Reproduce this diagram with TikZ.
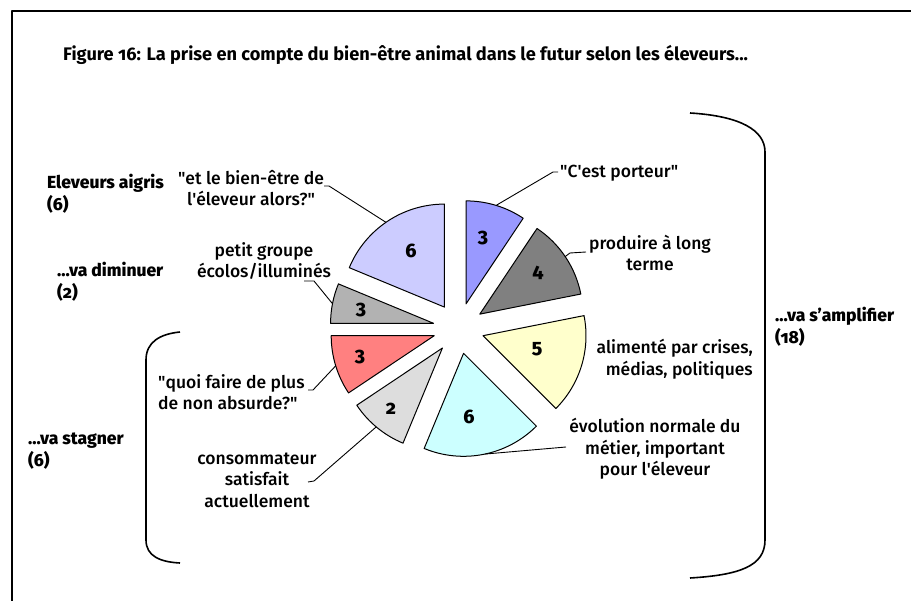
\documentclass[tikz,border=0pt]{standalone}
\usepackage{fontspec}
\setmainfont{Fira Sans}[Numbers=OldStyle]
\newfontfamily\medfont{Fira Sans Medium}[Numbers=OldStyle]
\newfontfamily\heavyfont{Fira Sans ExtraBold}[Numbers=OldStyle]
\newcommand\sq{\textquotesingle}
\newcommand\dq{\textquotedbl}
\definecolor{cblue}{HTML}{9999FF}
\definecolor{cdgray}{HTML}{808080}
\definecolor{cyellow}{HTML}{FFFFCC}
\definecolor{ccyan}{HTML}{CCFFFF}
\definecolor{clgray}{HTML}{DDDDDD}
\definecolor{cred}{HTML}{FF8080}
\definecolor{cgray}{HTML}{B2B2B2}
\definecolor{clav}{HTML}{CCCCFF}
\newcommand\drawslice[4]{%
  \path (C) ++ ({-(#1+#2)/2}:\D) coordinate (#4);
  \filldraw[slicestyle, fill=#3] (#4) -- ++({-(#1)}:\R)
    arc[start angle={-(#1)}, end angle={-(#2)}, radius=\R] -- cycle;
}
\begin{document}
\begin{tikzpicture}[x=1pt,y=-1pt,line join=round]
\useasboundingbox (0,0) rectangle (911,601);
\tikzset{
  slicestyle/.style={draw=black, line width=1pt},
  lead/.style={draw=black, line width=0.9pt},
  lbl/.style={font=\medfont\fontsize{17.5}{21.5}\selectfont, align=center, inner sep=0pt},
  grp/.style={font=\heavyfont\fontsize{17.5}{21.5}\selectfont, align=left, inner sep=0pt, anchor=west},
  num/.style={font=\heavyfont\fontsize{19.5}{20}\selectfont, inner sep=0pt},
  bracestyle/.style={draw=black, line width=1.6pt},
}
% frame
\draw[line width=1.6pt] (12,601) -- (12,11) -- (911,11);
% title
\node[anchor=base west, inner sep=0pt, font=\bfseries\fontsize{18.2}{20}\selectfont] (title) at (63,61)
  {Figure 16: La prise en compte du bien-être animal dans le futur selon les éleveurs...};
% pie
\coordinate (C) at (458.6,328.3);
\def\R{103}\def\D{25.5}
\drawslice{56.25}{90}{cblue}{sblue}
\drawslice{11.25}{56.25}{cdgray}{sdgray}
\drawslice{-45}{11.25}{cyellow}{syellow}
\drawslice{-112.5}{-45}{ccyan}{scyan}
\drawslice{-146.25}{-112.5}{clgray}{slgray}
\drawslice{-180}{-146.25}{cred}{sred}
\drawslice{157.5}{180}{cgray}{sgray}
\drawslice{90}{157.5}{clav}{slav}
% numbers
\node[num] (nblue) at (483,238) {3};
\node[num] (ndgray) at (538,273) {4};
\node[num] (nyellow) at (537,349) {5};
\node[num] (ncyan) at (469,417) {6};
\node[num] (nlgray) at (391,409) {2};
\node[num] (nred) at (360,357) {3};
\node[num] (ngray) at (361,310) {3};
\node[num] (nlav) at (411,251) {6};
% labels
\node[lbl] (tlav) at (251,188) {\dq et le bien-être de\\l\sq éleveur alors?\dq};
\node[lbl] (tgray) at (264,261) {petit groupe\\écolos/illuminés};
\node[lbl, align=left, anchor=west] (tred) at (158,392) {\dq quoi faire de plus\\de non absurde?\dq};
\node[lbl] (tlgray) at (257,480) {consommateur\\satisfait\\actuellement};
\node[lbl, anchor=west] (tblue) at (560,173) {\dq C\sq est porteur\dq};
\node[lbl] (tdgray) at (650,253) {produire à long\\terme};
\node[lbl, align=right, anchor=east] (tyellow) at (753,359) {alimenté par crises,\\médias, politiques};
\node[lbl] (tcyan) at (655,449) {évolution normale du\\métier, important\\pour l\sq éleveur};
% group labels
\node[grp] (gaigris) at (47,194) {Eleveurs aigris\\(6)};
\node[grp] (gdim) at (57,282) {...va diminuer\\(2)};
\node[grp] (gstag) at (28,451) {...va stagner\\(6)};
\node[grp] (gamp) at (775,327) {...va s’amplifier\\(18)};
% leader lines
\path (slav) ++ (-124.6:\R) coordinate (alav);
\path (sgray) ++ (-169:\R) coordinate (agray);
\path (sred) ++ (-197:\R) coordinate (ared);
\path (slgray) ++ (-230:\R) coordinate (algray);
\path (sblue) ++ (-73:\R) coordinate (ablue);
\path (sdgray) ++ (-34:\R) coordinate (adgray);
\path (scyan) ++ (78:\R) coordinate (acyan);
\coordinate (elav) at (324,186);
\coordinate (egray) at (304,281);
\coordinate (ered) at (308,390);
\coordinate (elgray) at (308,482);
\coordinate (eblue) at (558,172);
\coordinate (edgray) at (586,252);
\coordinate (ecyan) at (566,447);
\draw[lead] (elav) -- ++(5,0) -- (alav);
\draw[lead] (egray) -- ++(10,0) -- (agray);
\draw[lead] (ered) -- ++(5,0) -- (ared);
\draw[lead] (elgray) -- ++(6,-1) -- (algray);
\draw[lead] (eblue) -- ++(-5,0) -- (ablue);
\draw[lead] (edgray) -- ++(-16,1) -- (adgray);
\draw[lead] (ecyan) -- (acyan);
% braces
\coordinate (rb1) at (690,113);
\coordinate (rb2) at (765,152);
\coordinate (rb3) at (765,540);
\coordinate (rb4) at (690,578);
\draw[bracestyle] (rb1) .. controls (740,116) and (765,130) .. (rb2) -- (rb3)
  .. controls (765,566) and (740,575) .. (rb4);
\coordinate (lb1) at (180,332);
\coordinate (lb2) at (146,360);
\coordinate (lb3) at (146,540);
\coordinate (lb4) at (180,563);
\draw[bracestyle] (lb1) .. controls (160,334) and (146,342) .. (lb2) -- (lb3)
  .. controls (146,556) and (160,562) .. (lb4);
\end{tikzpicture}
\end{document}
